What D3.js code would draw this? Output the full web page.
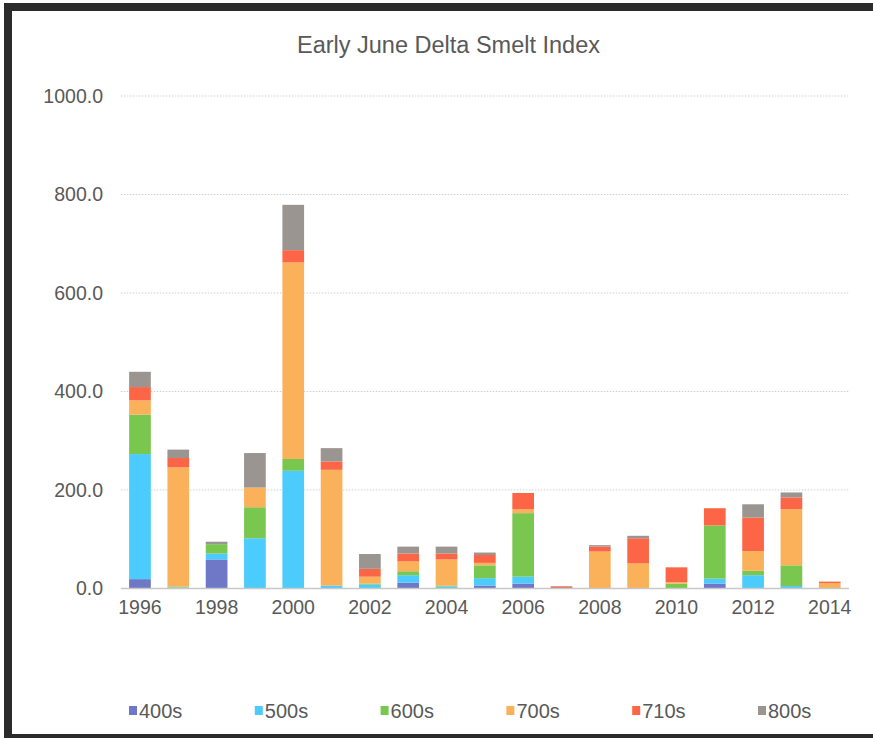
<!DOCTYPE html>
<html>
<head>
<meta charset="utf-8">
<script src="https://cdn.jsdelivr.net/npm/d3@7/dist/d3.min.js"></script>
<style>
  html, body { margin: 0; padding: 0; background: #fff; }
  svg { display: block; }
  text { font-family: "Liberation Sans", Arial, Helvetica, sans-serif; fill: #595959; }
</style>
</head>
<body>
<svg id="chart" width="873" height="738"></svg>
<script>
// Survey years
const years = ["1996","1997","1998","1999","2000","2001","2002","2003","2004","2005",
               "2006","2007","2008","2009","2010","2011","2012","2013","2014"];
// Index contribution by survey station group
const s400 = [19, 0, 59,  1,   1,   0,  0, 12,  0,  6,  10, 0,  0,  0,  0,  10,  0,   0,  0];
const s500 = [254, 2, 12, 101, 238,  6,  8, 15,  4, 15,  14, 0,  0,  0,  0,  10, 27,   5,  0];
const s600 = [80,  2, 19,  63,  24,  0,  2,  8,  2, 26, 129, 0,  0,  0, 10, 108,  9,  42,  0];
const s700 = [29, 242, 0,  40, 399, 235, 14, 20, 53,  5,   8, 1, 75, 51,  3,   0, 40, 114, 11];
const s710 = [27, 19,  0,   0,  25, 17, 16, 16, 12, 16,  33, 3, 10, 51, 30,  35, 68,  24,  3];
const s800 = [31, 17,  5,  70,  92, 27, 30, 14, 14,  5,   0, 1,  3,  5,  0,   0, 27,  10,  0];

const seriesNames = ["400s","500s","600s","700s","710s","800s"];
const seriesValues = [s400, s500, s600, s700, s710, s800];
const seriesColors = ["#6e78c6","#4ccbfd","#7ac74f","#fab159","#fc6647","#9a9590"];
const yTicks = [0, 200, 400, 600, 800, 1000];
const xTickLabels = ["1996","1998","2000","2002","2004","2006","2008","2010","2012","2014"];
const chartTitle = "Early June Delta Smelt Index";

const svg = d3.select("#chart");

// Frame
svg.append("rect").attr("x", 4).attr("y", 3).attr("width", 869).attr("height", 8).attr("fill", "#2b2b2b");
svg.append("rect").attr("x", 4).attr("y", 3).attr("width", 8).attr("height", 735).attr("fill", "#2b2b2b");
svg.append("rect").attr("x", 4).attr("y", 734).attr("width", 869).attr("height", 4).attr("fill", "#2b2b2b");

const plotLeft = 120.8, plotRight = 848.9, plotTop = 96, plotBottom = 588.5;

const x = d3.scaleBand().domain(years).range([plotLeft, plotRight]).paddingInner(0.434).paddingOuter(0.217);
const y = d3.scaleLinear().domain([0, 1000]).range([plotBottom, plotTop]);

// Table for stacking
const table = years.map((yr, i) => {
  const row = { year: yr };
  seriesNames.forEach((n, k) => { row[n] = seriesValues[k][i]; });
  return row;
});
const stacked = d3.stack().keys(seriesNames)(table);

// Grid lines
svg.append("g").selectAll("line")
  .data(yTicks.filter(t => t > 0))
  .join("line")
  .attr("x1", plotLeft).attr("x2", plotRight)
  .attr("y1", d => y(d)).attr("y2", d => y(d))
  .attr("stroke", "#cfcfcf").attr("stroke-width", 1.2)
  .attr("stroke-dasharray", "1.5,1.5");

// Y axis labels
const yAxis = d3.axisLeft(y).tickValues(yTicks).tickFormat(d3.format(".1f")).tickSize(0).tickPadding(0);
const gy = svg.append("g").attr("transform", `translate(103,0)`).call(yAxis);
gy.select(".domain").remove();
gy.selectAll("text").attr("font-size", 19.5).attr("fill", "#595959")
  .style("font-family", "'Liberation Sans', Arial, sans-serif");

// Bars
svg.append("g").selectAll("g")
  .data(stacked)
  .join("g")
  .attr("fill", (d, i) => seriesColors[i])
  .selectAll("rect")
  .data(d => d)
  .join("rect")
  .attr("x", d => x(d.data.year))
  .attr("width", x.bandwidth())
  .attr("y", d => y(d[1]))
  .attr("height", d => Math.max(0, y(d[0]) - y(d[1])));

// Baseline
svg.append("line").attr("x1", plotLeft).attr("x2", plotRight)
  .attr("y1", y(0)).attr("y2", y(0))
  .attr("stroke", "#c8c8c8").attr("stroke-width", 1.5);

// X axis labels (every other year)
const xAxis = d3.axisBottom(x).tickValues(xTickLabels).tickSize(0).tickPadding(0);
const gx = svg.append("g").attr("transform", `translate(0,${y(0) + 12})`).call(xAxis);
gx.select(".domain").remove();
gx.selectAll("text").attr("font-size", 19.5).attr("fill", "#595959").attr("dy", "0.71em")
  .style("font-family", "'Liberation Sans', Arial, sans-serif");

// Title
svg.append("text").attr("x", 448.5).attr("y", 53).attr("text-anchor", "middle")
  .attr("font-size", 23.5).text(chartTitle);

// Legend
const legend = svg.append("g").selectAll("g")
  .data(seriesNames)
  .join("g")
  .attr("transform", (d, i) => `translate(${129 + i * 125.8},0)`);
legend.append("rect").attr("x", 0).attr("y", 706).attr("width", 8).attr("height", 9)
  .attr("fill", (d, i) => seriesColors[i]);
legend.append("text").attr("x", 10).attr("y", 718).attr("font-size", 20).text(d => d);
</script>
</body>
</html>
